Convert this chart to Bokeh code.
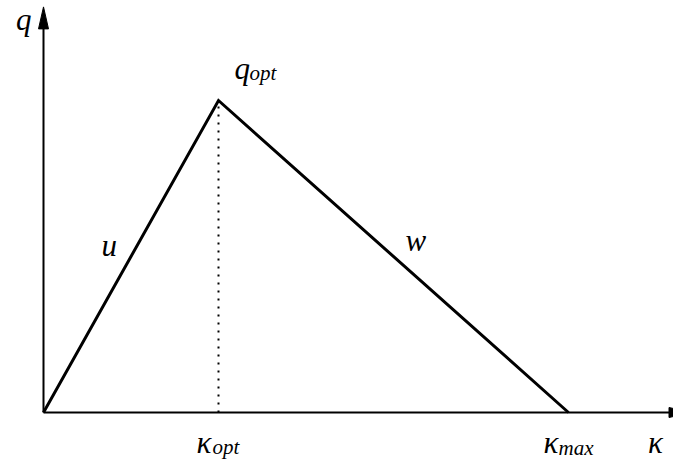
from bokeh.plotting import figure
from bokeh.models import Range1d
from bokeh.core.properties import value
from bokeh.embed import file_html
from bokeh.resources import INLINE

# Triangular fundamental diagram: flow q against density kappa
kappa = [0.0, 1.0, 3.0]          # 0, kappa_opt, kappa_max
flow = [0.0, 1.0, 0.0]           # 0, q_opt, 0
kappa_opt = kappa[1]
q_opt = flow[1]
kappa_max = kappa[2]
axis_x_end = 3.7                 # arrow tip of the density axis
axis_y_end = 1.3                 # arrow tip of the flow axis

W, H = 673, 460
# pixels per data unit on each axis
sx, sy = 175.0, 312.0
ox, oy = 43.0, 412.0             # pixel position of the origin

p = figure(width=W, height=H, output_backend="svg", toolbar_location=None,
           x_range=Range1d(-ox / sx, (W - ox) / sx),
           y_range=Range1d(-(H - oy) / sy, oy / sy),
           min_border=0, outline_line_color=None)
p.axis.visible = False
p.grid.visible = False
p.background_fill_color = "white"
p.border_fill_color = "white"

# axes with arrow heads
head_len, head_half = 22.0, 5.0
p.line([0, axis_x_end - head_len / sx], [0, 0], line_color="black", line_width=2)
p.line([0, 0], [0, axis_y_end - head_len / sy], line_color="black", line_width=2)
p.patch([axis_x_end, axis_x_end - head_len / sx, axis_x_end - head_len / sx],
        [0, head_half / sy, -head_half / sy], fill_color="black", line_color="black")
p.patch([0, head_half / sx, -head_half / sx],
        [axis_y_end, axis_y_end - head_len / sy, axis_y_end - head_len / sy],
        fill_color="black", line_color="black")

# dotted guide at the critical density
p.line([kappa_opt, kappa_opt], [0, q_opt], line_color="black", line_width=2,
       line_dash="2 6")

# the triangle
p.line(kappa, flow, line_color="black", line_width=3, line_join="miter")

font = value("Liberation Serif")
big = "31px"
small = "21px"


def lab(x, y, t, size, align="left", dx=0, dy=0):
    p.text(x=[x], y=[y], text=[t], text_font=font, text_font_style="italic",
           text_font_size=size, text_align=align, text_baseline="alphabetic",
           text_color="black", x_offset=dx, y_offset=dy - 11)


# axis names
lab(0, axis_y_end, "q", big, "right", -12, 24)
lab(axis_x_end, 0, "κ", big, "left", -43, 41)

# peak label q_opt
lab(kappa_opt, q_opt, "q", big, "left", 16, -21)
lab(kappa_opt, q_opt, "opt", small, "left", 31, -17)

# kappa_opt label
lab(kappa_opt, 0, "κ", big, "right", -7, 41)
lab(kappa_opt, 0, "opt", small, "left", -6, 45)

# kappa_max label
lab(kappa_max, 0, "κ", big, "right", -10, 41)
lab(kappa_max, 0, "max", small, "left", -10, 46)

# branch labels
lab((kappa[0] + kappa_opt) / 2, q_opt / 2, "u", big, "right", -14, 0)
lab((kappa_opt + kappa_max) / 2, q_opt / 2, "w", big, "left", 12, -5)

open("out.html", "w").write(file_html(p, INLINE))
